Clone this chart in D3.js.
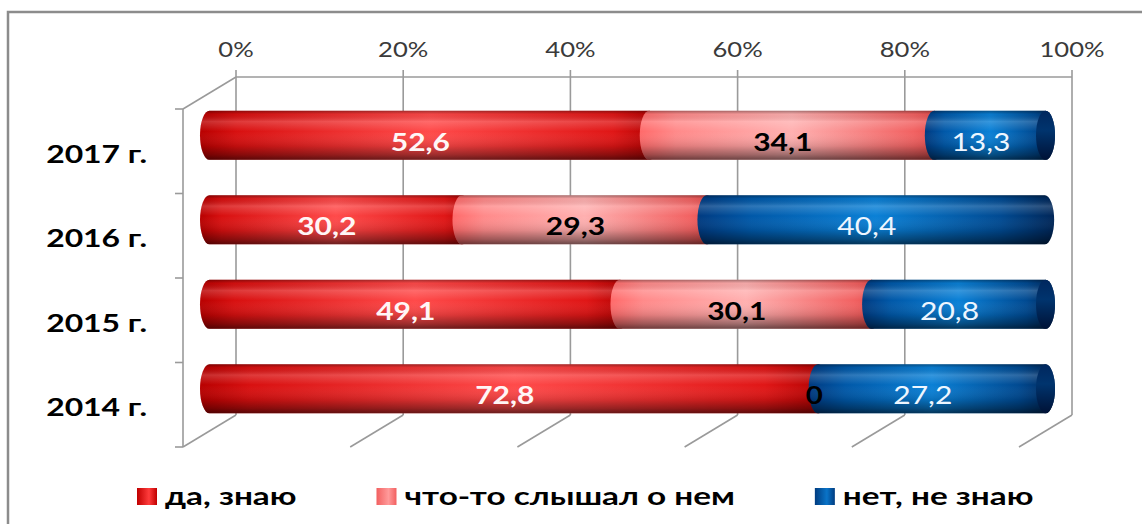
<!DOCTYPE html>
<html>
<head>
<meta charset="utf-8">
<script src="https://cdn.jsdelivr.net/npm/d3@7"></script>
<style>
  html, body { margin: 0; padding: 0; background: #ffffff; }
  svg { display: block; }
  text { font-family: Lato, "Open Sans", sans-serif; }
</style>
</head>
<body>
<svg id="chart" width="1142" height="524"></svg>
<script>
// ---------- data ----------
const categories = ["2014 г.", "2015 г.", "2016 г.", "2017 г."];
const seriesNames = ["да, знаю", "что-то слышал о нем", "нет, не знаю"];
const yesValues = [72.8, 49.1, 30.2, 52.6];
const heardValues = [0, 30.1, 29.3, 34.1];
const noValues = [27.2, 20.8, 40.4, 13.3];
const xTickValues = [0, 20, 40, 60, 80, 100];
const xTickLabels = ["0%", "20%", "40%", "60%", "80%", "100%"];

// ---------- layout ----------
const W = 1142, H = 524;
const svg = d3.select("#chart");
const defs = svg.append("defs");

const backTop = 77, backBottom = 415;
const depthDX = -53, depthDY = 32;
const xBack = d3.scaleLinear().domain([0, 100]).range([236, 1072]);
const xBar = d3.scaleLinear().domain([0, 100]).range([236 + depthDX / 2, 1072 + depthDX / 2]);
const catOrder = categories.slice().reverse(); // 2017 at top
const yFront = d3.scaleBand().domain(catOrder).range([backTop + depthDY, backBottom + depthDY]);
const yBar = d3.scaleBand().domain(catOrder)
  .range([backTop + depthDY / 2, backBottom + depthDY / 2])
  .paddingInner(0.42).paddingOuter(0.21);
const rx = 9.5;

// ---------- gradients ----------
const palettes = [
  { id: "g0", stops: [[0, "#b80000"], [0.08, "#d81010"], [0.5, "#ff4a4a"], [0.9, "#e01616"], [1, "#b00000"]] },
  { id: "g1", stops: [[0, "#ff6a6a"], [0.12, "#ff8a8a"], [0.5, "#ffb0b0"], [0.9, "#f26262"], [1, "#e04848"]] },
  { id: "g2", stops: [[0, "#003a80"], [0.15, "#0058a8"], [0.5, "#0a80d6"], [0.85, "#004a92"], [1, "#002658"]] }
];
palettes.forEach(p => {
  const g = defs.append("linearGradient").attr("id", p.id)
    .attr("x1", 0).attr("y1", 0).attr("x2", 1).attr("y2", 0);
  p.stops.forEach(s => g.append("stop").attr("offset", s[0]).attr("stop-color", s[1]));
});
const shade = defs.append("linearGradient").attr("id", "shade")
  .attr("x1", 0).attr("y1", 0).attr("x2", 0).attr("y2", 1);
[[0, "#000", 0.35], [0.07, "#000", 0.05], [0.22, "#fff", 0.18], [0.42, "#fff", 0.0],
 [0.72, "#000", 0.12], [0.9, "#000", 0.38], [1, "#000", 0.58]]
  .forEach(s => shade.append("stop").attr("offset", s[0]).attr("stop-color", s[1]).attr("stop-opacity", s[2]));
const capG = defs.append("linearGradient").attr("id", "cap")
  .attr("x1", 0).attr("y1", 0).attr("x2", 0).attr("y2", 1);
[[0, "#00275e"], [0.4, "#00346e"], [1, "#001236"]]
  .forEach(s => capG.append("stop").attr("offset", s[0]).attr("stop-color", s[1]));
const legG = [
  ["lg0", "#c00000", "#ff3c3c"],
  ["lg1", "#f26060", "#ff9a9a"],
  ["lg2", "#003c80", "#0a74c8"]
];
legG.forEach(l => {
  const g = defs.append("linearGradient").attr("id", l[0]).attr("x1", 0).attr("y1", 0).attr("x2", 1).attr("y2", 0);
  g.append("stop").attr("offset", 0).attr("stop-color", l[1]);
  g.append("stop").attr("offset", 0.6).attr("stop-color", l[2]);
  g.append("stop").attr("offset", 1).attr("stop-color", l[1]);
});

// ---------- frame ----------
svg.append("rect").attr("x", 8).attr("y", 12).attr("width", 1150).attr("height", 530)
  .attr("fill", "#fff").attr("stroke", "#8c8c8c").attr("stroke-width", 2.5);

const gridColor = "#9a9a9a";
const grid = svg.append("g").attr("stroke", gridColor).attr("stroke-width", 1.6).attr("fill", "none");
// back wall verticals
grid.selectAll("line.v").data(xTickValues).join("line").attr("class", "v")
  .attr("x1", d => xBack(d)).attr("x2", d => xBack(d))
  .attr("y1", backTop - 7).attr("y2", backBottom);
// back wall top
grid.append("line").attr("x1", xBack(0)).attr("x2", xBack(100)).attr("y1", backTop).attr("y2", backTop);
// floor diagonals
grid.selectAll("line.f").data(xTickValues).join("line").attr("class", "f")
  .attr("x1", d => xBack(d)).attr("x2", d => xBack(d) + depthDX)
  .attr("y1", backBottom).attr("y2", backBottom + depthDY);
// left wall
const xLeftFront = xBack(0) + depthDX;
grid.append("line").attr("x1", xLeftFront).attr("x2", xLeftFront)
  .attr("y1", backTop + depthDY).attr("y2", backBottom + depthDY);
grid.append("line").attr("x1", xLeftFront).attr("x2", xBack(0))
  .attr("y1", backTop + depthDY).attr("y2", backTop);
const tickYs = catOrder.map(c => yFront(c)).concat([backBottom + depthDY]);
grid.selectAll("line.t").data(tickYs).join("line").attr("class", "t")
  .attr("x1", xLeftFront - 8).attr("x2", xLeftFront).attr("y1", d => d).attr("y2", d => d);

// ---------- axis labels ----------
function stretch(sel, sx) {
  return sel.attr("transform", function () {
    const x = +this.getAttribute("data-x"), y = +this.getAttribute("data-y");
    return `translate(${x},${y}) scale(${sx},1)`;
  });
}
const xl = svg.append("g").selectAll("text").data(xTickValues).join("text")
  .attr("data-x", d => xBack(d)).attr("data-y", 57)
  .attr("text-anchor", "middle").attr("font-size", 21).attr("fill", "#3a3a3a")
  .text((d, i) => xTickLabels[i]);
stretch(xl, 1.22);

const cl = svg.append("g").selectAll("text").data(catOrder).join("text")
  .attr("data-x", 147).attr("data-y", d => yFront(d) + yFront.bandwidth() / 2 + 11.5)
  .attr("text-anchor", "end").attr("font-size", 25.5).attr("font-weight", 700).attr("fill", "#000")
  .text(d => d);
stretch(cl, 1.25);

// ---------- bars ----------
const rows = categories.map((c, i) => ({ cat: c, vals: [yesValues[i], heardValues[i], noValues[i]] }));
const segs = [];
rows.forEach(r => {
  let acc = 0;
  r.vals.forEach((v, s) => {
    segs.push({ cat: r.cat, s, v0: acc, v1: acc + v, v });
    acc += v;
  });
});
function segPath(d) {
  const x0 = xBar(d.v0), x1 = xBar(d.v1);
  const yt = yBar(d.cat), yb = yt + yBar.bandwidth(), ry = yBar.bandwidth() / 2;
  return `M${x0},${yt}L${x1},${yt}A${rx},${ry} 0 0 1 ${x1},${yb}L${x0},${yb}A${rx},${ry} 0 0 1 ${x0},${yt}Z`;
}
const bars = svg.append("g");
const drawn = segs.filter(d => d.v > 0);
const segG = bars.selectAll("g.seg").data(drawn).join("g").attr("class", "seg");
segG.append("path").attr("d", segPath).attr("fill", d => `url(#g${d.s})`);
segG.append("path").attr("d", segPath).attr("fill", "url(#shade)");
// right end caps
const lastSegs = drawn.filter(d => Math.abs(d.v1 - 100) < 0.01);
bars.selectAll("ellipse").data(lastSegs).join("ellipse")
  .attr("cx", d => xBar(d.v1)).attr("cy", d => yBar(d.cat) + yBar.bandwidth() / 2)
  .attr("rx", rx).attr("ry", yBar.bandwidth() / 2).attr("fill", "url(#cap)");

// ---------- data labels ----------
const labelColors = ["#fff6f6", "#000000", "#eef6ff"];
const labelWeights = [700, 700, 400];
const dl = svg.append("g").selectAll("text").data(segs).join("text")
  .attr("data-x", d => (d.v > 0 ? xBar((d.v0 + d.v1) / 2) - 9 : xBar(d.v0) - 4))
  .attr("data-y", d => yBar(d.cat) + yBar.bandwidth() / 2 + 15.5)
  .attr("text-anchor", "middle").attr("font-size", 25)
  .attr("font-weight", d => labelWeights[d.s]).attr("fill", d => labelColors[d.s])
  .text(d => String(d.v).replace(".", ","));
stretch(dl, 1.2);

// ---------- legend ----------
const legend = svg.append("g");
const legScale = 1.36;
let lx = 137;
seriesNames.forEach((name, i) => {
  legend.append("rect").attr("x", lx).attr("y", 488).attr("width", 20).attr("height", 17)
    .attr("fill", `url(#lg${i})`);
  const t = legend.append("text").attr("data-x", lx + 28).attr("data-y", 505)
    .attr("font-size", 24.5).attr("font-weight", 700).attr("fill", "#000").text(name);
  stretch(t, legScale);
  const w = t.node().getComputedTextLength() * legScale;
  lx = lx + 28 + w + 80;
});
</script>
</body>
</html>
